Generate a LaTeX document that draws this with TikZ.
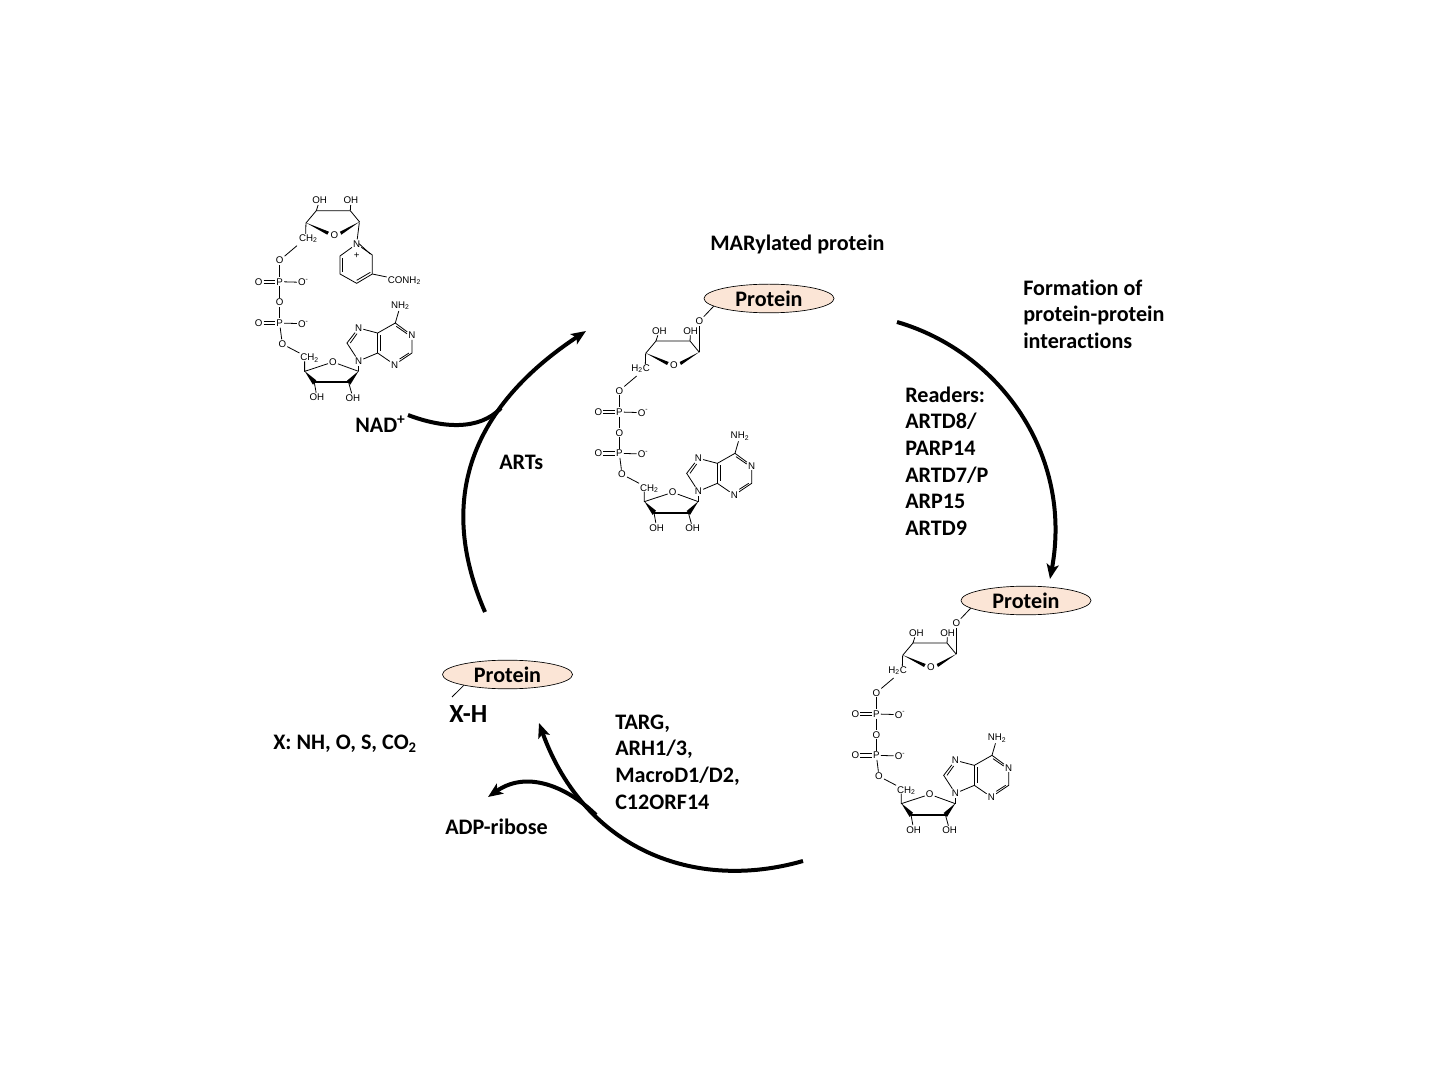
\documentclass[tikz,border=0pt]{standalone}
\usepackage{fontspec}
\setmainfont[Ligatures=NoCommon]{Carlito}
\newfontfamily\atomfont{Liberation Sans}
\usetikzlibrary{arrows.meta,shapes.geometric,calc}
\definecolor{proteinfill}{HTML}{FBE5D6}
\definecolor{inkblack}{HTML}{000000}

\tikzset{
  atom/.style={inner sep=0.7pt,font=\atomfont\fontsize{7.3}{8}\selectfont,text=inkblack},
  bond/.style={line width=0.6pt,draw=inkblack},
  % ribose + diphosphate + adenine, shared by all three molecules
  adpcore/.pic={
    \begin{scope}[x=0.25pt,y=-0.25pt]
      \coordinate (-olink) at (358,124);
      \coordinate (-c5) at (182,266);
      \coordinate (-nad5) at (204,267);
      \coordinate (-c1) at (358,217);
      \coordinate (-c2) at (330,183);
      \coordinate (-c3) at (228,183);
      \coordinate (-c4) at (197,220);
      \coordinate (-c5b) at (196,252);
      \coordinate (-l1) at (170,288);
      \coordinate (-d4) at (193,665);
      \coordinate (-d1) at (355,665);
      \coordinate (-d2) at (325,698);
      \coordinate (-d3) at (222,698);
      \coordinate (-d5) at (193,635);
      \coordinate (-a8) at (320,580);
      \coordinate (-a5) at (412,550);
      \coordinate (-a4) at (412,610);
      \coordinate (-a6) at (465,520);
      \coordinate (-a2) at (515,610);
      % upper ribose
      \node[atom] (-ro) at (282,256) {O};
      \node[atom] (-oh3) at (238,152) {OH};
      \node[atom] (-oh2) at (332,152) {OH};
      \draw[bond] (-c4) -- (-c3) -- (-c2) -- (-c1);
      \draw[bond] (-c3) -- (-oh3);
      \draw[bond] (-c2) -- (-oh2);
      \draw[bond] (-c4) -- (-c5b);
      \fill[inkblack] (197,219) -- (266,246) -- (261,255) -- cycle;
      \fill[inkblack] (358,216) -- (299,246) -- (303,255) -- cycle;
      % diphosphate
      \node[atom] (-o5) at (118,332) {O};
      \node[atom] (-p1) at (118,396) {P};
      \node[atom] (-odb1) at (55,396) {O};
      \node[atom,anchor=west] (-om1) at (170,398) {O\textsuperscript{-}};
      \node[atom] (-obr) at (118,458) {O};
      \node[atom] (-p2) at (118,520) {P};
      \node[atom] (-odb2) at (55,520) {O};
      \node[atom,anchor=west] (-om2) at (170,522) {O\textsuperscript{-}};
      \node[atom] (-o3) at (126,583) {O};
      \draw[bond] (-l1) -- (-o5);
      \draw[bond] (-o5) -- (-p1);
      \draw[bond] (-p1) -- (-om1);
      \draw[bond] ([yshift=1.2pt]-odb1.east) -- ([yshift=1.2pt]-p1.west);
      \draw[bond] ([yshift=-1.2pt]-odb1.east) -- ([yshift=-1.2pt]-p1.west);
      \draw[bond] (-p1) -- (-obr);
      \draw[bond] (-obr) -- (-p2);
      \draw[bond] (-p2) -- (-om2);
      \draw[bond] ([yshift=1.2pt]-odb2.east) -- ([yshift=1.2pt]-p2.west);
      \draw[bond] ([yshift=-1.2pt]-odb2.east) -- ([yshift=-1.2pt]-p2.west);
      \draw[bond] (-p2) -- (-o3);
      % lower ribose
      \node[atom] (-ch2) at (208,626) {CH\textsubscript{2}};
      \node[atom] (-rd) at (278,637) {O};
      \node[atom] (-oh6) at (230,743) {OH};
      \node[atom] (-oh7) at (338,745) {OH};
      \draw[bond] (-o3) -- (-ch2);
      \draw[bond] (-d5) -- (-d4) -- (-rd) -- (-d1);
      \draw[bond] (-d3) -- (-oh6);
      \draw[bond] (-d2) -- (-oh7);
      \fill[inkblack] (193,664) -- (228,692) -- (218,705) -- cycle;
      \draw[line width=1.6pt,draw=inkblack] (-d3) -- (-d2);
      \fill[inkblack] (355,664) -- (330,705) -- (320,693) -- cycle;
      % adenine
      \node[atom] (-n9) at (355,634) {N};
      \node[atom] (-n7) at (355,535) {N};
      \node[atom] (-n1) at (515,557) {N};
      \node[atom] (-n3) at (463,645) {N};
      \node[atom] (-nh2) at (480,468) {NH\textsubscript{2}};
      \draw[bond] (-d1) -- (-n9);
      \draw[bond] (-n9) -- (-a8) -- (-n7) -- (-a5) -- (-a6) -- (-n1) -- (-a2) -- (-n3) -- (-a4) -- (-n9);
      \draw[bond] (-a4) -- (-a5);
      \draw[bond] (-a6) -- (-nh2);
      \draw[bond] (330,580) -- (350,552);
      \draw[bond] (420,556) -- (420,603);
      \draw[bond] (468,530) -- (500,552);
      \draw[bond] (506,610) -- (478,628);
    \end{scope}
  },
  % pyridinium ring of the first molecule
  nicotinamide/.pic={
    \begin{scope}[x=0.25pt,y=-0.25pt]
      \coordinate (-r1) at (397,225);
      \coordinate (-r2) at (397,282);
      \coordinate (-r3) at (350,310);
      \coordinate (-r4) at (300,282);
      \coordinate (-r5) at (300,228);
      \coordinate (-r6) at (358,127);
      \node[atom] (-n) at (350,192) {N};
      \node[atom] (-plus) at (350,228) {+};
      \node[atom,anchor=west] (-amide) at (440,302) {CONH\textsubscript{2}};
      \draw[bond] (-n) -- (-r1) -- (-r2) -- (-r3) -- (-r4) -- (-r5) -- (-n);
      \draw[bond] (-r2) -- (-amide);
      \draw[bond] (-r6) -- (-n);
      \draw[bond] (306,234) -- (306,277);
      \draw[bond] (350,301) -- (391,277);
      \draw[bond] (357,191) -- (391,222);
    \end{scope}
  }
}

\begin{document}
\begin{tikzpicture}[
  x=0.75pt,y=-0.75pt,
  font=\bfseries\fontsize{16.6}{20}\selectfont,
  >={Stealth[length=11pt,width=9pt,inset=2.5pt]},
  protein/.style={
    ellipse,
    draw=inkblack,
    fill=proteinfill,
    line width=0.5pt,
    minimum width=97.5pt,
    minimum height=21.5pt,
    inner sep=0pt
  },
  label/.style={
    align=left,
    anchor=west,
    inner sep=0pt,
    text=inkblack
  },
  cyclearrow/.style={
    ->,
    line width=3pt,
    draw=inkblack
  }
]
  \useasboundingbox (0,0) rectangle (1440,1080);

  % Molecules
  \pic (nad) at (240.3,149.7) {adpcore};
  \pic (nic) at (240,180) {nicotinamide};
  \pic (mar) at (580,280) {adpcore};
  \pic (read) at (837,582) {adpcore};

  \node[atom] (nadch) at (nad-nad5) {CH\textsubscript{2}};

  % Protein ovals
  \node[protein] (protmar) at (769,298.5) {Protein};
  \node[protein] (protread) at (1026,600.5) {Protein};
  \node[protein] (protfree) at (507.5,674.5) {Protein};

  \foreach \m/\p in {mar/protmar,read/protread}{
    \node[atom] (\m h2c) at (\m-c5) {H\textsubscript{2}C};
    \node[atom] (\m olink) at (\m-olink) {O};
    \draw[bond] (\m olink) -- (\m-c1);
    \draw[bond] (\m olink) -- (\p.188);
  }

  % Labels
  \node[label] (marlabel) at (710,244.5) {MARylated protein};
  \node[label] (formation) at (1023,314) {Formation of\\protein-protein\\interactions};
  \node[label] (readers) at (905,461) {Readers:\\ARTD8/\\PARP14\\ARTD7/P\\ARP15\\ARTD9};
  \node[label] (arts) at (499,462) {ARTs};
  \node[label] (nadlabel) at (355,424) {NAD\textsuperscript{+}};
  \node[label] (targ) at (615,762) {TARG,\\ARH1/3,\\MacroD1/D2,\\C12ORF14};
  \node[label,font=\bfseries\fontsize{19.6}{20}\selectfont] (xh) at (449,714) {X-H};
  \node[label] (xlist) at (273,744) {X: NH, O, S, CO\raisebox{-2.5pt}{\fontsize{11}{12}\selectfont 2}};
  \node[label] (adpr) at (445,827) {ADP-ribose};

  \coordinate (xhtip) at (452,697);
  \draw[bond] (protfree.194) -- (xhtip);

  % Cycle arrows
  \coordinate (readstart) at (897,322);
  \coordinate (readend) at (1050,579);
  \coordinate (hydstart) at (803,861);
  \coordinate (hydend) at (539,723);
  \coordinate (artstart) at (485,612);
  \coordinate (artend) at (586,331);
  \coordinate (nadstart) at (408,415);
  \coordinate (nadjoin) at (501,408);
  \coordinate (adpjoin) at (596,815);
  \coordinate (adpend) at (488,797);

  \draw[cyclearrow] (readstart) .. controls (1000,352) and (1073,455) .. (readend);
  \draw[cyclearrow] (hydstart) .. controls (695,892) and (585,850) .. (hydend);
  \draw[cyclearrow] (artstart) .. controls (445,520) and (452,420) .. (artend);
  \draw[line width=3pt,draw=inkblack] (nadstart) .. controls (442,428) and (479,431) .. (nadjoin);
  \draw[cyclearrow] (adpjoin) .. controls (572,791) and (530,768) .. (adpend);

\end{tikzpicture}
\end{document}
